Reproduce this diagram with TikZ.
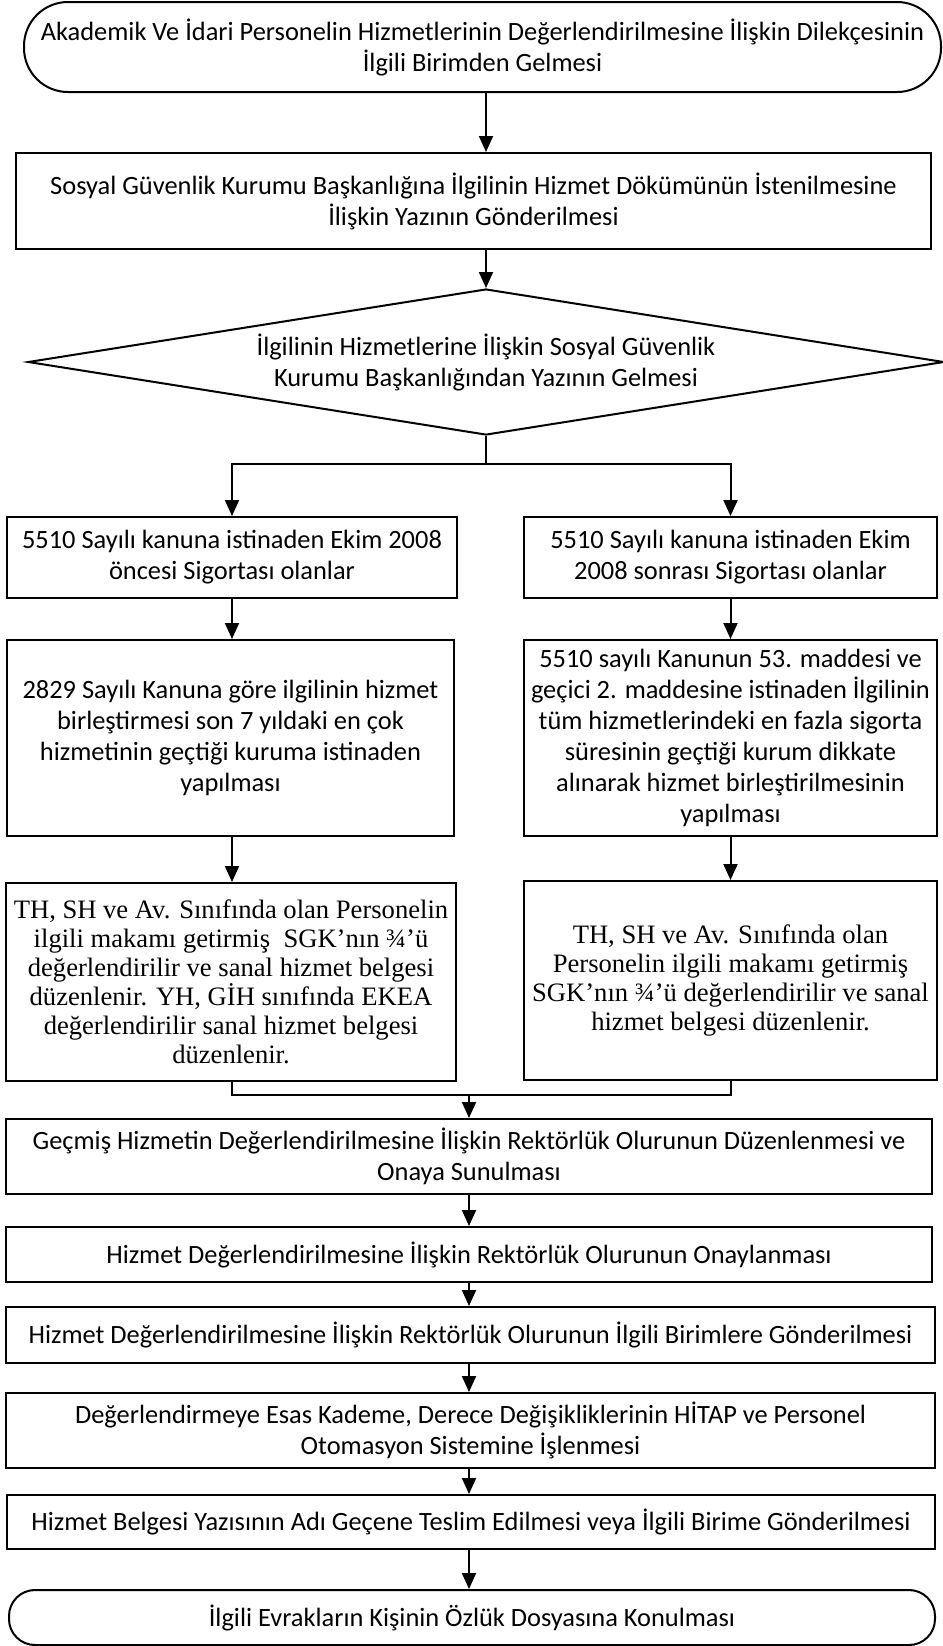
\documentclass[tikz,border=0pt]{standalone}
\usepackage{fontspec}
\setmainfont{Carlito}
\newfontfamily\tnr{Liberation Serif}
\usetikzlibrary{shapes.geometric,arrows.meta}
\begin{document}
\begin{tikzpicture}[x=0.5pt,y=-0.5pt,
  base/.style={draw,line width=1pt,inner sep=0pt,align=center,font=\fontsize{13.2pt}{15.5pt}\selectfont},
  boxn/.style={base,rectangle},
  term/.style={base,rectangle,rounded corners=#1},
  timesbox/.style={base,rectangle,font=\tnr\fontsize{13.3pt}{14.5pt}\selectfont},
  dec/.style={base,diamond,aspect=6.27},
  conn/.style={line width=1pt},
  arr/.style={line width=1pt,-{Triangle[length=8pt,width=7pt]}}]
\useasboundingbox[fill=white] (0,0) rectangle (943,1646);

\node[term=22pt,minimum width=458.5pt,minimum height=45pt] (top) at (482.5,47)
  {Akademik Ve İdari Personelin Hizmetlerinin Değerlendirilmesine İlişkin Dilekçesinin\\İlgili Birimden Gelmesi};
\node[boxn,minimum width=457.5pt,minimum height=48pt] (b2) at (473.5,201)
  {Sosyal Güvenlik Kurumu Başkanlığına İlgilinin Hizmet Dökümünün İstenilmesine\\İlişkin Yazının Gönderilmesi};
\node[dec,minimum width=458pt,minimum height=73pt] (dia) at (486,362)
  {İlgilinin Hizmetlerine İlişkin Sosyal Güvenlik\\Kurumu Başkanlığından Yazının Gelmesi};

\node[boxn,minimum width=225pt,minimum height=40.5pt] (L1) at (232,557.5)
  {5510 Sayılı kanuna istinaden Ekim 2008\\öncesi Sigortası olanlar};
\node[boxn,minimum width=206.5pt,minimum height=40.5pt] (R1) at (730.5,557.5)
  {5510 Sayılı kanuna istinaden Ekim\\2008 sonrası Sigortası olanlar};
\node[boxn,minimum width=223.5pt,minimum height=98pt] (L2) at (230.5,738)
  {2829 Sayılı Kanuna göre ilgilinin hizmet\\birleştirmesi son 7 yıldaki en çok\\hizmetinin geçtiği kuruma istinaden\\yapılması};
\node[boxn,minimum width=206.5pt,minimum height=98pt] (R2) at (730.5,738)
  {5510 sayılı Kanunun 53. maddesi ve\\geçici 2. maddesine istinaden İlgilinin\\tüm hizmetlerindeki en fazla sigorta\\süresinin geçtiği kurum dikkate\\alınarak hizmet birleştirilmesinin\\yapılması};
\node[timesbox,minimum width=225pt,minimum height=99pt] (L3) at (231,982)
  {TH, SH ve Av. Sınıfında olan Personelin\\ilgili makamı getirmiş \ SGK’nın ¾’ü\\değerlendirilir ve sanal hizmet belgesi\\düzenlenir. YH, GİH sınıfında EKEA\\değerlendirilir sanal hizmet belgesi\\düzenlenir.};
\node[timesbox,minimum width=206.5pt,minimum height=99.5pt] (R3) at (730.5,980.5)
  {TH, SH ve Av. Sınıfında olan\\Personelin ilgili makamı getirmiş\\SGK’nın ¾’ü değerlendirilir ve sanal\\hizmet belgesi düzenlenir.};

\node[boxn,minimum width=463pt,minimum height=37.5pt] (G) at (469,1156.5)
  {Geçmiş Hizmetin Değerlendirilmesine İlişkin Rektörlük Olurunun Düzenlenmesi ve\\Onaya Sunulması};
\node[boxn,minimum width=463pt,minimum height=27.5pt] (O) at (469,1254.5)
  {Hizmet Değerlendirilmesine İlişkin Rektörlük Olurunun Onaylanması};
\node[boxn,minimum width=464.5pt,minimum height=28pt] (I) at (470.5,1335)
  {Hizmet Değerlendirilmesine İlişkin Rektörlük Olurunun İlgili Birimlere Gönderilmesi};
\node[boxn,minimum width=464.5pt,minimum height=37.5pt] (D) at (470.5,1430.5)
  {Değerlendirmeye Esas Kademe, Derece Değişikliklerinin HİTAP ve Personel\\Otomasyon Sistemine İşlenmesi};
\node[boxn,minimum width=464pt,minimum height=27pt] (HB) at (471,1522)
  {Hizmet Belgesi Yazısının Adı Geçene Teslim Edilmesi veya İlgili Birime Gönderilmesi};
\node[term=13pt,minimum width=463pt,minimum height=27.5pt] (bot) at (472,1617.5)
  {İlgili Evrakların Kişinin Özlük Dosyasına Konulması};

\coordinate (sp) at (486,464);
\coordinate (mg) at (469,1095);
\coordinate (bx) at (469,0);

\draw[arr] (top.south -| dia.north) -- (b2.north -| dia.north);
\draw[arr] (b2.south -| dia.north) -- (dia.north);
\draw[conn] (dia.south) -- (sp);
\draw[arr] (sp) -| (L1.north);
\draw[arr] (sp) -| (R1.north);
\draw[arr] (L1.south) -- (L1.south |- L2.north);
\draw[arr] (R1.south) -- (R2.north);
\draw[arr] (L2.south -| L1.south) -- (L3.north -| L1.south);
\draw[arr] (R2.south) -- (R3.north);
\draw[conn] (L3.south -| L1.south) -- (L1.south |- mg) -- (R3.south |- mg) -- (R3.south);
\draw[arr] (mg) -- (G.north -| mg);
\draw[arr] (G.south -| bx) -- (O.north -| bx);
\draw[arr] (O.south -| bx) -- (I.north -| bx);
\draw[arr] (I.south -| bx) -- (D.north -| bx);
\draw[arr] (D.south -| bx) -- (HB.north -| bx);
\draw[arr] (HB.south -| bx) -- (bot.north -| bx);
\end{tikzpicture}
\end{document}
